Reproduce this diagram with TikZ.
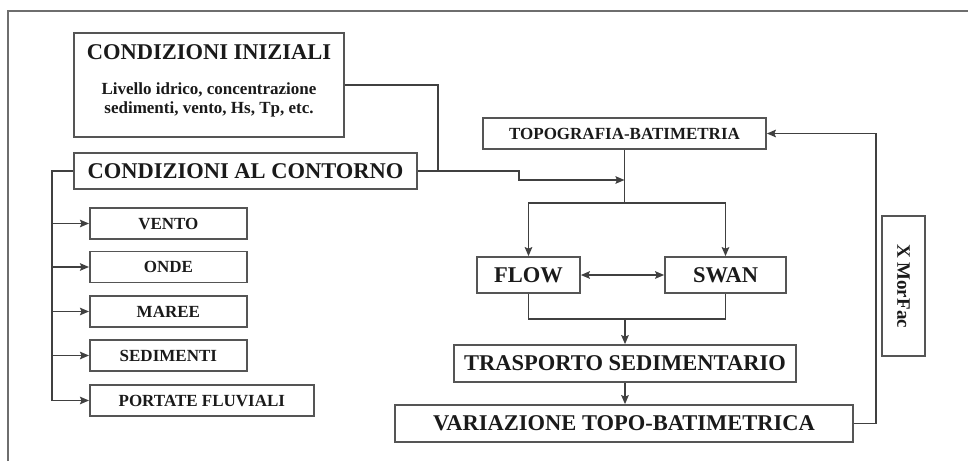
\documentclass[tikz,border=0pt]{standalone}
\usepackage{fontspec}
\setmainfont{Liberation Serif}
\usetikzlibrary{arrows.meta,calc,positioning}
\definecolor{linegray}{HTML}{404040}
\definecolor{boxgray}{HTML}{555555}
\definecolor{ink}{HTML}{1A1A1A}
\newcommand{\titlefont}{\fontsize{22.5}{26}\selectfont\bfseries}
\newcommand{\labelfont}{\fontsize{17}{19}\selectfont\bfseries}
\tikzset{
  block/.style={draw=boxgray, line width=1.7pt, rectangle, inner sep=0pt, text=ink},
  bigblock/.style={block, font=\titlefont, minimum height=36pt},
  smallblock/.style={block, font=\labelfont, minimum height=31pt},
  link/.style={draw=linegray, line width=1.7pt},
}

\begin{document}
\begin{tikzpicture}[>={Stealth[length=9pt,width=7.5pt,inset=1.5pt]}, x=1pt, y=-1pt]
    \useasboundingbox (0,0) rectangle (968,461);
    % frame, cut at the right and at the bottom
    \draw[boxgray!85, line width=1.7pt] (8,461) -- (8,11) -- (968,11);
    % initial and boundary conditions
    \node[block, minimum width=270pt, minimum height=104pt] (ini) at (209,85) {};
    \node[font=\titlefont, text=ink] (initit) at (209,52) {CONDIZIONI INIZIALI};
    \node[font=\labelfont, text=ink, align=center] (initxt) at (209,99.5)
      {Livello idrico, concentrazione\\sedimenti, vento, Hs, Tp, etc.};
    \node[bigblock, minimum width=343pt] (cont) at (245.5,171) {CONDIZIONI AL CONTORNO};
    % forcings
    \coordinate (bus) at (52,171);
    \draw[link] (cont.west) -- (bus) -- (52,400.5);
    \foreach \nm/\txt/\yy/\ww in {vento/VENTO/223.5/157, onde/ONDE/267/157,
        maree/MAREE/311.5/157, sed/SEDIMENTI/355.5/157,
        port/PORTATE FLUVIALI/400.5/224} {
      \node[smallblock, anchor=west, minimum width=\ww pt] (\nm) at (89,\yy) {\txt};
      \draw[link,->] (bus |- \nm.west) -- (\nm.west);
    }
    % model loop
    \node[smallblock, minimum width=283pt] (topo) at (624.5,133.5) {TOPOGRAFIA-BATIMETRIA};
    \node[bigblock, minimum width=103pt] (flow) at (528.5,275) {FLOW};
    \node[bigblock, minimum width=121pt] (swan) at (725.5,275) {SWAN};
    \node[bigblock, minimum width=342pt, minimum height=37pt] (tras) at (625,363.5) {TRASPORTO SEDIMENTARIO};
    \node[bigblock, minimum width=458pt, minimum height=37pt] (var) at (624,423.5) {VARIAZIONE TOPO-BATIMETRICA};
    \node[block, font=\fontsize{19}{22}\selectfont\bfseries, rotate=-90,
      minimum width=140pt, minimum height=43pt] (morfac) at (903.5,286) {X MorFac};
    % inputs into the loop
    \coordinate (join) at (438,171);
    \coordinate (kink) at (519,171);
    \draw[link] (ini.east |- 0,85) -| (join);
    \draw[link,->] (cont.east) -- (kink) -- (519,180) -- (topo.south |- 0,180);
    % topography to the two modules
    \coordinate (split) at (624.5,203);
    \draw[link] (topo.south) -- (split);
    \draw[link,->] (split) -| (flow.north);
    \draw[link,->] (split) -| (swan.north);
    \draw[link,<->] (flow) -- (swan);
    % modules to transport
    \coordinate (merge) at (625,319);
    \draw[link] (flow.south) |- (merge) -| (swan.south);
    \draw[link,->] (merge) -- (tras.north);
    \draw[link,->] (tras.south) -- (tras.south |- var.north);
    % feedback
    \draw[link,->] (var.east) -- ++(22,0) |- (topo.east);
\end{tikzpicture}
\end{document}
